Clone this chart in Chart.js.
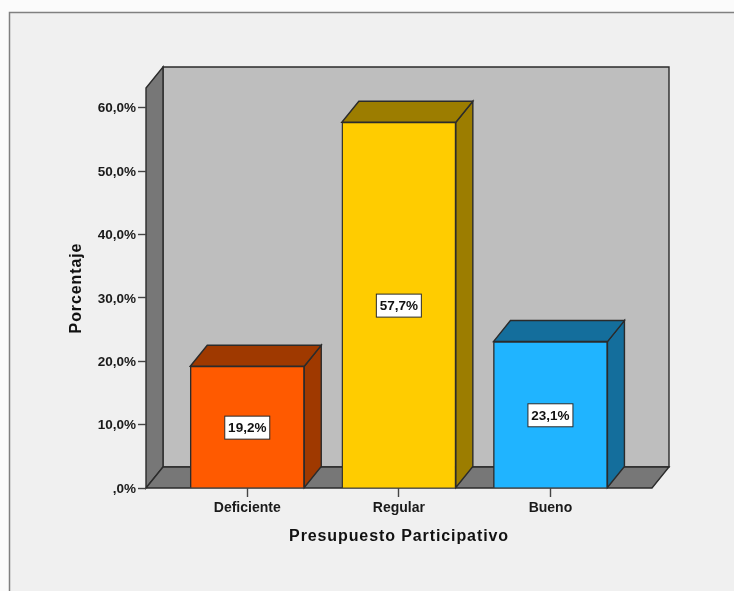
<!DOCTYPE html>
<html><head><meta charset="utf-8">
<style>html,body{margin:0;padding:0;background:#fff}canvas{display:block}</style>
<script src="https://cdn.jsdelivr.net/npm/chart.js@4"></script>
</head><body>
<div style="width:734px;height:591px;position:relative"><canvas id="c" width="734" height="591"></canvas></div>
<script>
const categories = ['Deficiente', 'Regular', 'Bueno'];
const percentages = [19.2, 57.7, 23.1];
const valueLabels = ['19,2%', '57,7%', '23,1%'];
const yTickValues = [0, 10, 20, 30, 40, 50, 60];
const yTickLabels = [',0%', '10,0%', '20,0%', '30,0%', '40,0%', '50,0%', '60,0%'];
const frontColors = ['#FF5A00', '#FFCC00', '#20B4FF'];
const sideColors = ['#9F3900', '#9C7D00', '#146E9C'];
const xTitle = 'Presupuesto Participativo';
const yTitle = 'Porcentaje';

const DX = 17, DY = -21, LINE = '#2b2b2b', FONT = '"Liberation Sans", Arial, sans-serif';

function poly(ctx, pts, fill) {
  ctx.beginPath();
  pts.forEach((p, i) => i ? ctx.lineTo(p[0], p[1]) : ctx.moveTo(p[0], p[1]));
  ctx.closePath();
  ctx.fillStyle = fill; ctx.fill();
  ctx.strokeStyle = LINE; ctx.lineWidth = 1.4; ctx.lineJoin = 'miter'; ctx.stroke();
}

function spaceTitle(scale) {
  if (scale._spaced) return;
  const orig = scale.drawTitle;
  scale.drawTitle = function () { const c = this.ctx; c.save(); c.letterSpacing = '0.9px'; orig.call(this); c.restore(); };
  scale._spaced = true;
}

const scene3d = {
  id: 'scene3d',
  beforeDraw(chart) {
    const ctx = chart.ctx, a = chart.chartArea;
    ctx.save();
    ctx.fillStyle = '#fbfbfb'; ctx.fillRect(0, 0, chart.width, chart.height);
    ctx.fillStyle = '#F0F0F0'; ctx.fillRect(10, 13, chart.width - 10, chart.height - 13);
    ctx.strokeStyle = '#808080'; ctx.lineWidth = 1.5;
    ctx.beginPath(); ctx.moveTo(9.5, chart.height); ctx.lineTo(9.5, 12.5); ctx.lineTo(chart.width, 12.5); ctx.stroke();
    poly(ctx, [[a.left + DX, a.top + DY], [a.right + DX, a.top + DY], [a.right + DX, a.bottom + DY], [a.left + DX, a.bottom + DY]], '#BEBEBE');
    poly(ctx, [[a.left, a.top], [a.left + DX, a.top + DY], [a.left + DX, a.bottom + DY], [a.left, a.bottom]], '#777777');
    poly(ctx, [[a.left, a.bottom], [a.left + DX, a.bottom + DY], [a.right + DX, a.bottom + DY], [a.right, a.bottom]], '#777777');
    ctx.restore();
    spaceTitle(chart.scales.x);
    spaceTitle(chart.scales.y);
  },
  beforeDatasetsDraw(chart) {
    const ctx = chart.ctx;
    ctx.save();
    chart.getDatasetMeta(0).data.forEach((b, i) => {
      const l = b.x - b.width / 2, r = b.x + b.width / 2, t = b.y, bt = b.base;
      poly(ctx, [[r, bt], [r + DX, bt + DY], [r + DX, t + DY], [r, t]], sideColors[i]);
      poly(ctx, [[l, t], [l + DX, t + DY], [r + DX, t + DY], [r, t]], sideColors[i]);
    });
    ctx.restore();
  },
  afterDatasetsDraw(chart) {
    const ctx = chart.ctx, sy = chart.scales.y;
    ctx.save();
    chart.getDatasetMeta(0).data.forEach((b, i) => {
      const cx = b.x, cy = sy.getPixelForValue(percentages[i] / 2) + 0.5;
      ctx.fillStyle = '#fff'; ctx.strokeStyle = LINE; ctx.lineWidth = 1;
      ctx.fillRect(cx - 22.5, cy - 11.5, 45, 23);
      ctx.strokeRect(cx - 22.5, cy - 11.5, 45, 23);
      ctx.fillStyle = '#111'; ctx.font = 'bold 13.5px ' + FONT;
      ctx.textAlign = 'center'; ctx.textBaseline = 'middle';
      ctx.fillText(valueLabels[i], cx, cy + 0.5);
    });
    ctx.restore();
  }
};

new Chart(document.getElementById('c'), {
  type: 'bar',
  data: {
    datasets: [{
      label: 'Porcentaje',
      data: categories.map((c, i) => ({ x: i, y: percentages[i] })),
      backgroundColor: frontColors,
      borderColor: LINE,
      borderWidth: 1.4,
      barThickness: 114
    }]
  },
  plugins: [scene3d],
  options: {
    responsive: false,
    animation: false,
    layout: { padding: { left: 0, top: 88, right: 82, bottom: 0 } },
    plugins: { legend: { display: false }, tooltip: { enabled: false } },
    scales: {
      x: {
        type: 'linear', min: -0.668, max: 2.67, offset: false,
        afterBuildTicks(s) { s.ticks = categories.map((c, i) => ({ value: i })); },
        afterFit(s) { s.height = 103; },
        grid: { display: true, offset: false, drawOnChartArea: false, drawTicks: true, tickLength: 9, tickColor: '#444', tickWidth: 1.4 },
        border: { display: false },
        ticks: { autoSkip: false, maxRotation: 0, padding: 3, color: '#1a1a1a', font: { family: FONT, size: 14, weight: 'bold' },
          callback: (v) => categories[v] },
        title: { display: true, text: xTitle, color: '#111', font: { family: FONT, size: 16, weight: 'bold' }, padding: { top: 0, bottom: 44.4 } }
      },
      y: {
        min: 0, max: 63.1,
        afterBuildTicks(s) { s.ticks = yTickValues.map(v => ({ value: v })); },
        afterFit(s) { s.width = 146; },
        grid: { display: true, drawOnChartArea: false, drawTicks: true, tickLength: 8, tickColor: '#444', tickWidth: 1.4 },
        border: { display: false },
        ticks: { autoSkip: false, padding: 2, labelOffset: 1, color: '#1a1a1a', font: { family: FONT, size: 13.5, weight: 'bold' },
          callback: (v) => yTickLabels[yTickValues.indexOf(v)] },
        title: { display: true, text: yTitle, color: '#111', font: { family: FONT, size: 16, weight: 'bold' }, padding: { top: 67, bottom: 0 } }
      }
    }
  }
});
</script>
</body></html>
